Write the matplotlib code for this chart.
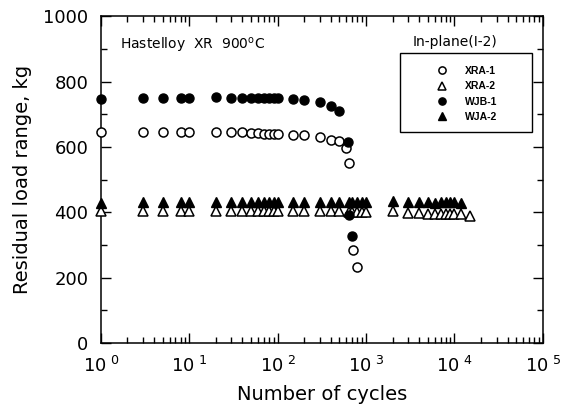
import matplotlib
matplotlib.use("Agg")
import matplotlib.pyplot as plt
from matplotlib.ticker import LogLocator, FixedLocator, MultipleLocator, NullFormatter
from matplotlib.patches import Rectangle

plt.rcParams["font.family"] = ["DejaVu Sans"]
plt.rcParams["mathtext.fontset"] = "dejavusans"

# XRA-1 (open circles)
xra1_n = [1, 3, 5, 8, 10, 20, 30, 40, 50, 60, 70, 80, 90, 100, 150, 200,
          300, 400, 500, 600, 650, 720, 800]
xra1_load = [645, 645, 645, 645, 645, 647, 645, 645, 643, 642, 641, 640, 640,
             640, 638, 638, 631, 621, 617, 597, 550, 285, 234]

# WJB-1 (filled circles)
wjb1_n = [1, 3, 5, 8, 10, 20, 30, 40, 50, 60, 70, 80, 90, 100, 150, 200,
          300, 400, 500, 620, 650, 700]
wjb1_load = [747, 749, 750, 751, 751, 752, 751, 750, 750, 750, 750, 750, 750,
             750, 747, 745, 739, 724, 710, 615, 391, 328]

# XRA-2 (open triangles)
xra2_n = [1, 3, 5, 8, 10, 20, 30, 40, 50, 60, 70, 80, 90, 100, 150, 200,
          300, 400, 500, 650, 700, 800, 900, 1000, 2000, 3000, 4000, 5000,
          6000, 7000, 8000, 9000, 10000, 12000, 15000]
xra2_load = [403, 403, 403, 403, 403, 403, 403, 404, 404, 404, 404, 404, 404,
             404, 404, 404, 403, 403, 403, 402, 402, 402, 402, 402, 403, 398,
             398, 394, 396, 394, 394, 394, 394, 394, 390]

# WJA-2 (filled triangles)
wja2_n = [1, 3, 5, 8, 10, 20, 30, 40, 50, 60, 70, 80, 90, 100, 150, 200,
          300, 400, 500, 650, 700, 800, 900, 1000, 2000, 3000, 4000, 5000,
          6000, 7000, 8000, 9000, 10000, 12000]
wja2_load = [428, 430, 430, 430, 430, 431, 432, 432, 432, 433, 433, 433, 433,
             433, 433, 433, 433, 433, 433, 433, 433, 433, 433, 433, 435, 432,
             432, 430, 428, 430, 430, 430, 430, 428]

fig = plt.figure(figsize=(5.69, 4.05), dpi=100)
ax = fig.add_axes([0.177, 0.153, 0.777, 0.807])

ms = 6.5
ax.plot(xra1_n, xra1_load, "o", mfc="white", mec="black", mew=1.1, ms=ms,
        clip_on=False, zorder=3, label="XRA-1")
ax.plot(xra2_n, xra2_load, "^", mfc="white", mec="black", mew=1.1, ms=ms,
        clip_on=False, zorder=3, label="XRA-2")
ax.plot(wjb1_n, wjb1_load, "o", color="black", ms=ms,
        clip_on=False, zorder=4, label="WJB-1")
ax.plot(wja2_n, wja2_load, "^", color="black", ms=ms,
        clip_on=False, zorder=4, label="WJA-2")

ax.set_xscale("log")
ax.set_xlim(1, 1e5)
ax.set_ylim(0, 1000)

ax.xaxis.set_major_locator(FixedLocator([1, 10, 100, 1000, 1e4, 1e5]))
ax.xaxis.set_minor_locator(LogLocator(base=10, subs=range(2, 10), numticks=20))
ax.xaxis.set_minor_formatter(NullFormatter())
ax.set_xticklabels([f"10$^{{\\ {k}}}$" for k in range(6)])
ax.yaxis.set_major_locator(MultipleLocator(200))
ax.yaxis.set_minor_locator(MultipleLocator(100))

ax.tick_params(which="both", direction="in", top=True, right=True, width=1.0,
               labelsize=13)
ax.tick_params(axis="x", which="major", pad=9.5)
ax.tick_params(axis="y", which="major", pad=9)
ax.tick_params(which="major", length=7.5)
ax.tick_params(which="minor", length=4.5)
for s in ax.spines.values():
    s.set_linewidth(1.1)

ax.set_xlabel("Number of cycles", fontsize=14, labelpad=6)
ax.set_ylabel("Residual load range, kg", fontsize=14, labelpad=8)

ax.text(0.044, 0.911, "Hastelloy  XR  900$^{\\rm o}$C", transform=ax.transAxes,
        fontsize=10, ha="left", va="center")
ax.text(0.801, 0.920, "In-plane(I-2)", transform=ax.transAxes,
        fontsize=10, ha="center", va="center")

ax.add_patch(Rectangle((0.678, 0.645), 0.297, 0.242, transform=ax.transAxes,
                       fill=False, edgecolor="black", lw=1.0, zorder=5))
leg = ax.legend(loc="upper left", bbox_to_anchor=(0.75, 0.86), frameon=False,
                prop={"family": "Liberation Sans", "size": 7.5, "weight": "bold"},
                handlelength=1.0, handletextpad=1.7,
                labelspacing=0.5, borderaxespad=0, markerscale=0.8)

fig.savefig("out.png", dpi=100)
